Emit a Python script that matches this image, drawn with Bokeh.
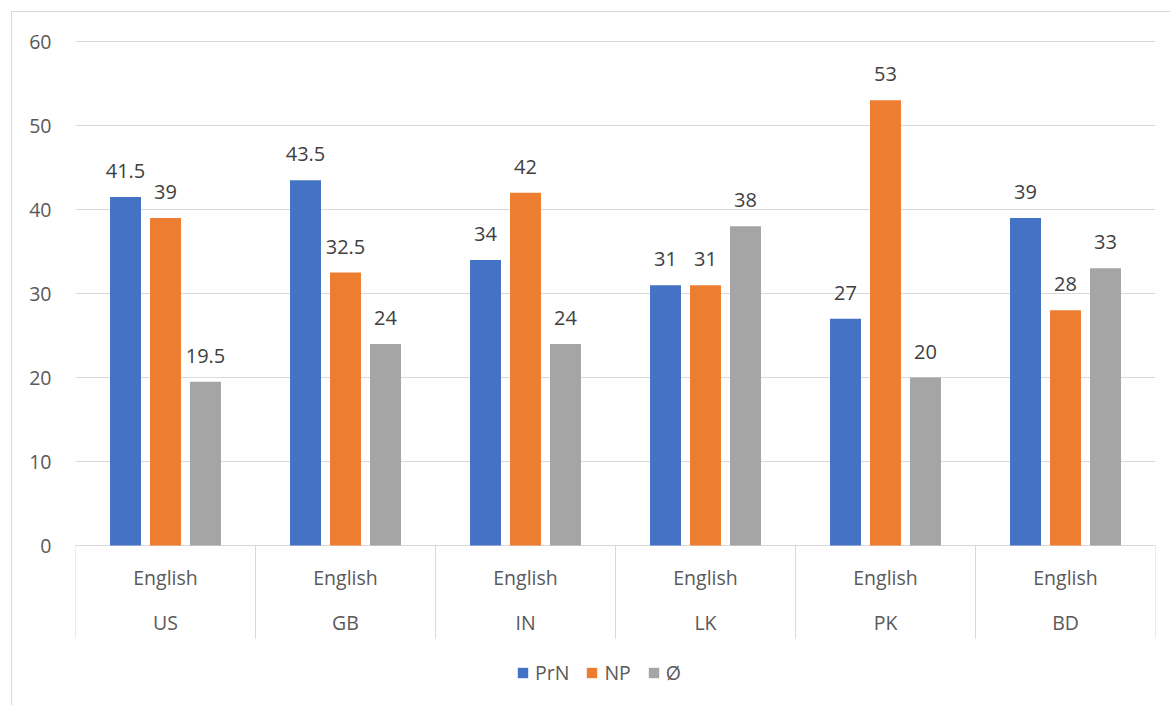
from bokeh.plotting import figure
from bokeh.models import (ColumnDataSource, FactorRange, Range1d, FixedTicker,
                          Legend, LegendItem)
from bokeh.transform import dodge
from bokeh.core.properties import value
from bokeh.embed import file_html
from bokeh.resources import INLINE

# Countries and the language tagged for each
countries = ["US", "GB", "IN", "LK", "PK", "BD"]
languages = ["English", "English", "English", "English", "English", "English"]

# Series values per country
prn = [41.5, 43.5, 34, 31, 27, 39]
np_vals = [39, 32.5, 42, 31, 53, 28]
null_vals = [19.5, 24, 24, 38, 20, 33]

series_names = ["PrN", "NP", "Ø"]
y_ticks = [0, 10, 20, 30, 40, 50, 60]

FONT = "Open Sans"
AXIS_COLOR = "#595959"
LABEL_COLOR = "#404040"
GRID_COLOR = "#D9D9D9"
COLORS = ["#4472C4", "#ED7D31", "#A5A5A5"]


def fmt(v):
    return f"{v:g}"


source = ColumnDataSource(dict(
    country=countries,
    language=languages,
    prn=prn, np=np_vals, null=null_vals,
    prn_lbl=[fmt(v) for v in prn],
    np_lbl=[fmt(v) for v in np_vals],
    null_lbl=[fmt(v) for v in null_vals],
))

# Value range: 8.4 px per unit; the lower part of the frame holds the
# category labels and the legend.
y_bottom = -18.45
cat_bottom = -11.07
p = figure(
    x_range=FactorRange(*countries, range_padding=0),
    y_range=Range1d(y_bottom, 60.6),
    width=1159, height=694,
    min_border_left=63, min_border_right=16,
    min_border_top=24, min_border_bottom=6,
    x_axis_location=None,
    toolbar_location=None,
    output_backend="svg",
)
p.styles = {
    "margin-left": "11px",
    "margin-top": "11px",
    "border-left": "1px solid #D9D9D9",
    "border-top": "1px solid #D9D9D9",
}
p.outline_line_color = None
p.background_fill_color = "white"
p.border_fill_color = "white"

# Value axis
p.yaxis.ticker = FixedTicker(ticks=y_ticks)
p.yaxis.axis_line_color = None
p.yaxis.major_tick_line_color = None
p.yaxis.minor_tick_line_color = None
p.yaxis.major_label_standoff = 18
p.yaxis.major_label_text_font = FONT
p.yaxis.major_label_text_font_size = "19.5px"
p.yaxis.major_label_text_color = AXIS_COLOR

p.xgrid.visible = False
p.ygrid.ticker = FixedTicker(ticks=y_ticks)
p.ygrid.grid_line_color = GRID_COLOR
p.ygrid.grid_line_width = 1

# Grouped bars with value labels
offsets = [-0.2222, 0.0, 0.2222]
fields = ["prn", "np", "null"]
bar_width = 0.172
renderers = []
for off, field, color in zip(offsets, fields, COLORS):
    r = p.vbar(x=dodge("country", off, range=p.x_range), top=field, bottom=0,
               width=bar_width, source=source, fill_color=color, line_color=None)
    renderers.append(r)
    p.text(x=dodge("country", off, range=p.x_range), y=field, text=field + "_lbl",
           source=source, text_align="center", text_baseline="alphabetic",
           y_offset=-26, text_font=value(FONT), text_font_size="20px",
           text_color=LABEL_COLOR)

# Two-level category labels below the bars
p.text(x="country", y=-3.78, text="language", source=source,
       text_align="center", text_baseline="alphabetic",
       text_font=value(FONT), text_font_size="19.5px", text_color=AXIS_COLOR)
p.text(x="country", y=-9.17, text="country", source=source,
       text_align="center", text_baseline="alphabetic",
       text_font=value(FONT), text_font_size="19.5px", text_color=AXIS_COLOR)

# Category separators
edges = [(c, -0.5) for c in countries] + [(countries[-1], 0.5)]
p.segment(x0=edges, x1=edges, y0=[0] * len(edges), y1=[cat_bottom] * len(edges),
          line_color=GRID_COLOR, line_width=1)

# Legend under the category labels
legend = Legend(
    items=[LegendItem(label=n, renderers=[r]) for n, r in zip(series_names, renderers)],
    orientation="horizontal", location=(441, 14),
    glyph_width=13, glyph_height=13, label_standoff=6, spacing=16,
    label_text_font=FONT, label_text_font_size="19.5px", label_text_color=AXIS_COLOR,
    border_line_color=None, background_fill_alpha=0, margin=0, padding=4,
)
p.add_layout(legend)

open("out.html", "w").write(file_html(p, INLINE))
